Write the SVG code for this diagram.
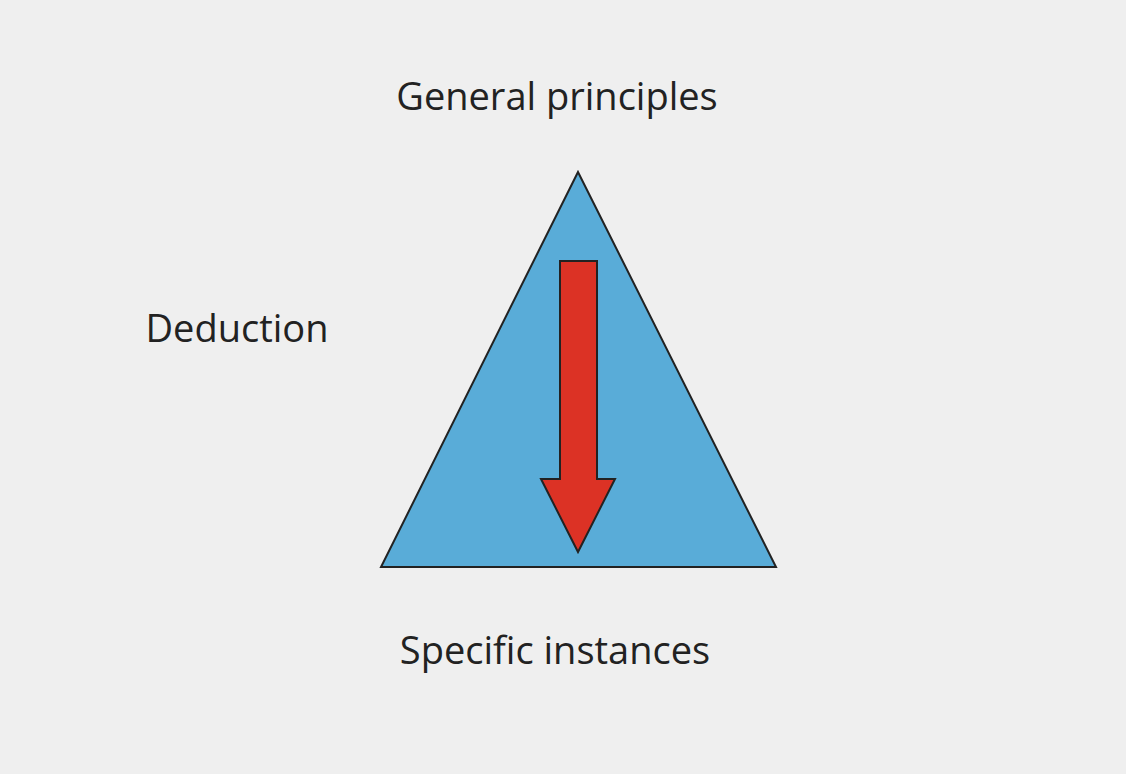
<svg xmlns="http://www.w3.org/2000/svg" width="1126" height="774" viewBox="0 0 1126 774">
<style>
text{font-family:"Open Sans","Liberation Sans",sans-serif;font-size:38px;fill:#222}
</style>
<rect width="1126" height="774" fill="#efefef"/>
<g id="triangle"><polygon points="578,172 381,567 776,567" fill="#59acd8" stroke="#222" stroke-width="2"/></g>
<g id="connectors"><polygon points="560,261 597,261 597,479 615,479 578,552 541,479 560,479" fill="#dc3225" stroke="#222" stroke-width="2"/></g>
<g id="top"><text x="557" y="110" text-anchor="middle">General principles</text></g>
<g id="left"><text x="237" y="342" text-anchor="middle">Deduction</text></g>
<g id="bottom"><text x="555" y="664" text-anchor="middle">Specific instances</text></g>
</svg>
